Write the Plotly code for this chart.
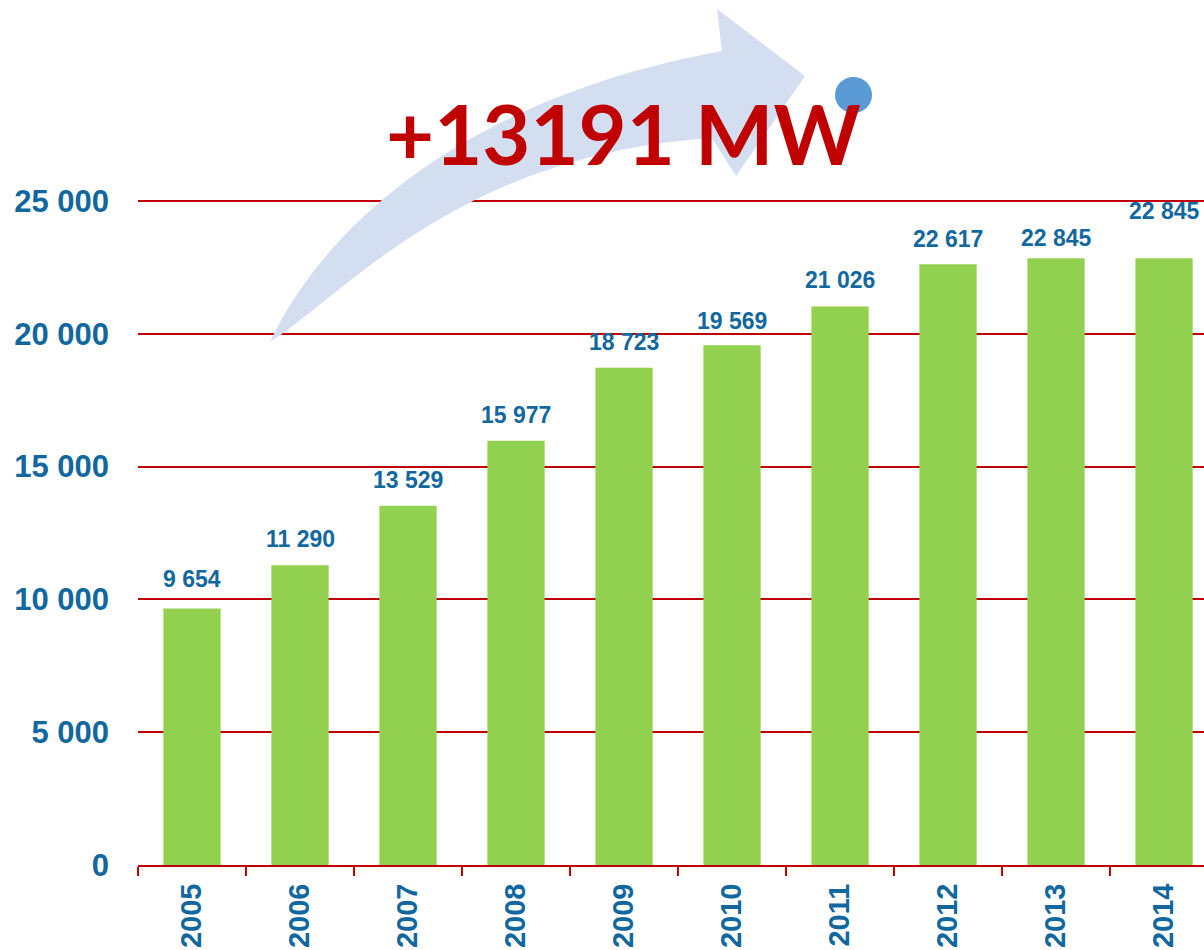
import plotly.graph_objects as go

years = ["2005", "2006", "2007", "2008", "2009", "2010", "2011", "2012", "2013", "2014"]
capacity_mw = [9654, 11290, 13529, 15977, 18723, 19569, 21026, 22617, 22845, 22845]
value_labels = ["9 654", "11 290", "13 529", "15 977", "18 723", "19 569", "21 026", "22 617", "22 845", "22 845"]
y_tick_values = [0, 5000, 10000, 15000, 20000, 25000]
y_tick_labels = ["0", "5 000", "10 000", "15 000", "20 000", "25 000"]
headline = "+13191 MW"

# styling: extra lift of each value label above its bar (px)
label_lift = [15, 11, 11, 11, 11, 9, 12, 10, 5, 32]

W, H = 1204, 950
L, R, T, B = 138, 0, 0, 85
plot_w = W - L - R
plot_h = H - T - B
y_max = 25000 * plot_h / (865 - 201)

BLUE = "#12689E"
RED = "#C00000"
GREEN = "#92D050"
FONT = "Liberation Sans, Arial, sans-serif"


def px(x):
    return (x - L) / plot_w


def py(y):
    return (H - B - y) / plot_h


fig = go.Figure()
fig.add_trace(go.Bar(x=years, y=capacity_mw, marker=dict(color=GREEN, line=dict(width=0)),
                     width=0.53, hoverinfo="x+y"))

for i, (v, lab) in enumerate(zip(capacity_mw, value_labels)):
    fig.add_annotation(x=i, y=v, xref="x", yref="y", text=lab, showarrow=False,
                       yanchor="bottom", yshift=label_lift[i],
                       font=dict(family=FONT, size=23, color=BLUE, weight="bold"))

# decorative curved arrow (page pixel coordinates)
tail = (270, 342)
up_c1, up_c2, notch_up = (330, 215), (480, 95), (722, 51)
head_top, tip, head_bot = (717, 9), (805, 76), (736, 176)
notch_lo = (712, 138)
lo_c2, lo_c1 = (460, 155), (350, 290)


def P(p):
    return f"{px(p[0]):.5f},{py(p[1]):.5f}"


path = (f"M {P(tail)} C {P(up_c1)} {P(up_c2)} {P(notch_up)} L {P(head_top)} L {P(tip)} "
        f"L {P(head_bot)} L {P(notch_lo)} C {P(lo_c2)} {P(lo_c1)} {P(tail)} Z")
fig.add_shape(type="path", path=path, xref="paper", yref="paper",
              fillcolor="#D3DEF0", line=dict(width=0), layer="above")
fig.add_shape(type="circle", xref="paper", yref="paper",
              x0=px(835), x1=px(872), y0=py(113), y1=py(77),
              fillcolor="#5B9BD5", line=dict(width=0), layer="above")

fig.add_annotation(x=px(623), y=py(133), xref="paper", yref="paper", text=headline,
                   showarrow=False, xanchor="center", yanchor="middle",
                   font=dict(family="Lato, Noto Sans, sans-serif", size=83, color=RED, weight="bold"))

fig.update_layout(
    width=W, height=H,
    margin=dict(l=L, r=R, t=T, b=B, pad=0),
    plot_bgcolor="white", paper_bgcolor="white",
    showlegend=False,
)
fig.update_xaxes(type="category", range=[-0.5, 9.37], showgrid=False,
                 showline=True, linecolor=RED, linewidth=2,
                 ticks="outside", tickson="boundaries", ticklen=9, tickcolor=RED, tickwidth=2,
                 tickangle=-90, ticklabelstandoff=5,
                 tickfont=dict(family=FONT, size=29, color=BLUE, weight="bold"))
fig.update_yaxes(range=[0, y_max], tickvals=y_tick_values, ticktext=y_tick_labels,
                 showgrid=True, gridcolor=RED, gridwidth=1.5, zeroline=False,
                 showline=False, ticks="", ticklabelstandoff=28,
                 tickfont=dict(family=FONT, size=31, color=BLUE, weight="bold"))

fig.write_html("out.html", config={"displayModeBar": False},
               post_script="document.body.style.margin='0';document.body.style.overflow='hidden';")
